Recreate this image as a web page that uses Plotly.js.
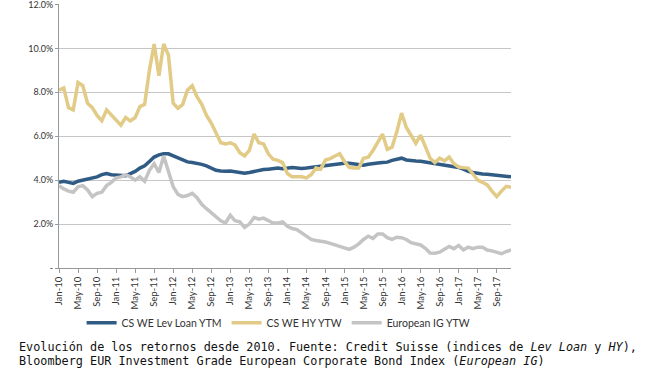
<!DOCTYPE html>
<html>
<head>
<meta charset="utf-8">
<script src="https://cdn.plot.ly/plotly-3.0.1.min.js"></script>
<style>html,body{margin:0;padding:0;background:#fff;}#chart{width:649px;height:368px;}</style>
</head>
<body>
<div id="chart"></div>
<script>
var months = [
 "Jan-10","Feb-10","Mar-10","Apr-10","May-10","Jun-10","Jul-10","Aug-10","Sep-10","Oct-10","Nov-10","Dec-10",
 "Jan-11","Feb-11","Mar-11","Apr-11","May-11","Jun-11","Jul-11","Aug-11","Sep-11","Oct-11","Nov-11","Dec-11",
 "Jan-12","Feb-12","Mar-12","Apr-12","May-12","Jun-12","Jul-12","Aug-12","Sep-12","Oct-12","Nov-12","Dec-12",
 "Jan-13","Feb-13","Mar-13","Apr-13","May-13","Jun-13","Jul-13","Aug-13","Sep-13","Oct-13","Nov-13","Dec-13",
 "Jan-14","Feb-14","Mar-14","Apr-14","May-14","Jun-14","Jul-14","Aug-14","Sep-14","Oct-14","Nov-14","Dec-14",
 "Jan-15","Feb-15","Mar-15","Apr-15","May-15","Jun-15","Jul-15","Aug-15","Sep-15","Oct-15","Nov-15","Dec-15",
 "Jan-16","Feb-16","Mar-16","Apr-16","May-16","Jun-16","Jul-16","Aug-16","Sep-16","Oct-16","Nov-16","Dec-16",
 "Jan-17","Feb-17","Mar-17","Apr-17","May-17","Jun-17","Jul-17","Aug-17","Sep-17","Oct-17","Nov-17","Dec-17"
];

var levLoanYTM = [
 3.9, 3.95, 3.9, 3.85, 3.95, 4.0, 4.05, 4.1, 4.15, 4.25,
 4.3, 4.25, 4.22, 4.2, 4.2, 4.3, 4.4, 4.55, 4.65, 4.85,
 5.05, 5.15, 5.2, 5.2, 5.1, 5.0, 4.9, 4.83, 4.8, 4.77,
 4.72, 4.65, 4.55, 4.45, 4.42, 4.4, 4.42, 4.38, 4.35, 4.32,
 4.35, 4.4, 4.45, 4.48, 4.5, 4.52, 4.55, 4.52, 4.55, 4.57,
 4.55, 4.53, 4.55, 4.58, 4.6, 4.62, 4.65, 4.7, 4.72, 4.77,
 4.77, 4.77, 4.75, 4.7, 4.68, 4.72, 4.76, 4.78, 4.8, 4.82,
 4.9, 4.97, 5.0, 4.92, 4.88, 4.87, 4.86, 4.83, 4.78, 4.76,
 4.72, 4.68, 4.65, 4.62, 4.58, 4.5, 4.4, 4.35, 4.3, 4.28,
 4.27, 4.25, 4.23, 4.2, 4.17, 4.15
];

var hyYTW = [
 8.1, 8.2, 7.3, 7.2, 8.45, 8.3, 7.5, 7.3, 6.95, 6.7,
 7.2, 6.95, 6.7, 6.5, 6.85, 6.7, 6.85, 7.35, 7.45, 9.0,
 10.2, 8.75, 10.2, 9.7, 7.5, 7.27, 7.45, 8.1, 8.3, 7.8,
 7.45, 6.95, 6.6, 6.1, 5.7, 5.65, 5.7, 5.6, 5.25, 5.1,
 5.35, 6.1, 5.7, 5.65, 5.2, 4.95, 4.9, 4.8, 4.3, 4.15,
 4.15, 4.15, 4.1, 4.25, 4.55, 4.5, 4.92, 4.98, 5.1, 5.2,
 4.85, 4.58, 4.55, 4.55, 5.0, 5.05, 5.35, 5.75, 6.1, 5.4,
 5.5, 6.2, 7.05, 6.4, 6.0, 5.68, 6.05, 5.5, 5.0, 4.8,
 5.0, 4.88, 5.05, 4.75, 4.6, 4.57, 4.55, 4.28, 4.0, 3.9,
 3.78, 3.5, 3.25, 3.5, 3.72, 3.68
];

var igYTW = [
 3.75, 3.6, 3.5, 3.45, 3.7, 3.75, 3.55, 3.25, 3.4, 3.45,
 3.75, 3.9, 4.1, 4.15, 4.25, 4.15, 4.0, 4.15, 3.95, 4.45,
 4.75, 4.35, 5.1, 4.4, 3.7, 3.35, 3.25, 3.3, 3.4, 3.2,
 2.9, 2.7, 2.5, 2.3, 2.15, 2.05, 2.4, 2.15, 2.1, 1.85,
 2.0, 2.3, 2.22, 2.27, 2.15, 2.05, 2.05, 2.1, 1.9, 1.8,
 1.75, 1.6, 1.45, 1.3, 1.25, 1.22, 1.18, 1.12, 1.05, 0.98,
 0.88, 0.85, 0.95, 1.1, 1.3, 1.45, 1.35, 1.55, 1.55, 1.38,
 1.3, 1.4, 1.38, 1.3, 1.15, 1.12, 1.05, 0.9, 0.68, 0.67,
 0.72, 0.85, 0.98, 0.88, 1.03, 0.83, 0.95, 0.88, 0.95, 0.95,
 0.82, 0.78, 0.72, 0.65, 0.75, 0.82
];

var seriesNames = ["CS WE Lev Loan YTM", "CS WE HY YTW", "European IG YTW"];
var yTickVals = [0, 2, 4, 6, 8, 10, 12];
var yTickText = ["-", "2.0%", "4.0%", "6.0%", "8.0%", "10.0%", "12.0%"];
var xTickLabels = months.filter(function(m, i){ return i % 4 === 0; });

var traces = [
 {x: months, y: levLoanYTM, name: seriesNames[0], type: "scatter", mode: "lines",
  line: {color: "#2f5b84", width: 3.5}},
 {x: months, y: hyYTW, name: seriesNames[1], type: "scatter", mode: "lines",
  line: {color: "#e1cb86", width: 3.5}},
 {x: months, y: igYTW, name: seriesNames[2], type: "scatter", mode: "lines",
  line: {color: "#c4c4c4", width: 3.5}}
];

var layout = {
 width: 649, height: 368,
 margin: {l: 59, r: 138, t: 4, b: 100, pad: 0},
 paper_bgcolor: "#ffffff", plot_bgcolor: "#ffffff",
 font: {family: "Lato, 'Open Sans', sans-serif", size: 9, color: "#333333"},
 showlegend: true,
 legend: {orientation: "h", x: 0.05, xanchor: "left", y: -0.207, yanchor: "middle",
  font: {family: "Lato, sans-serif", size: 10.5, color: "#333333"}, bgcolor: "rgba(0,0,0,0)",
  itemwidth: 30, traceorder: "normal"},
 xaxis: {type: "category", range: [0, months.length - 1], tickmode: "array",
  tickvals: xTickLabels, ticktext: xTickLabels, tickangle: -90,
  ticks: "outside", ticklen: 4, tickcolor: "#999999", showgrid: false,
  showline: true, linecolor: "#999999", linewidth: 1, zeroline: false,
  tickfont: {family: "Lato, sans-serif", size: 9.5, color: "#333333"}, fixedrange: true},
 yaxis: {range: [0, 12.02], tickmode: "array", tickvals: yTickVals, ticktext: yTickText,
  showgrid: true, gridcolor: "#c6c6c6", gridwidth: 1, zeroline: false,
  showline: true, linecolor: "#999999", linewidth: 1, ticks: "outside", ticklen: 3, tickcolor: "#999999",
  ticklabeloverflow: "allow",
  tickfont: {family: "Lato, sans-serif", size: 9, color: "#333333"}, fixedrange: true},
 annotations: [
  {xref: "paper", yref: "paper", x: -0.093, y: -0.2993, xanchor: "left", yanchor: "middle",
   showarrow: false, align: "left",
   text: "Evolución de los retornos desde 2010. Fuente: Credit Suisse (indices de <i>Lev Loan</i> y <i>HY</i>),",
   font: {family: "'DejaVu Sans Mono', monospace", size: 11.8, color: "#111111"}},
  {xref: "paper", yref: "paper", x: -0.093, y: -0.3523, xanchor: "left", yanchor: "middle",
   showarrow: false, align: "left",
   text: "Bloomberg EUR Investment Grade European Corporate Bond Index (<i>European IG</i>)",
   font: {family: "'DejaVu Sans Mono', monospace", size: 11.8, color: "#111111"}}
 ]
};

Plotly.newPlot("chart", traces, layout, {staticPlot: true, displayModeBar: false});
</script>
</body>
</html>
